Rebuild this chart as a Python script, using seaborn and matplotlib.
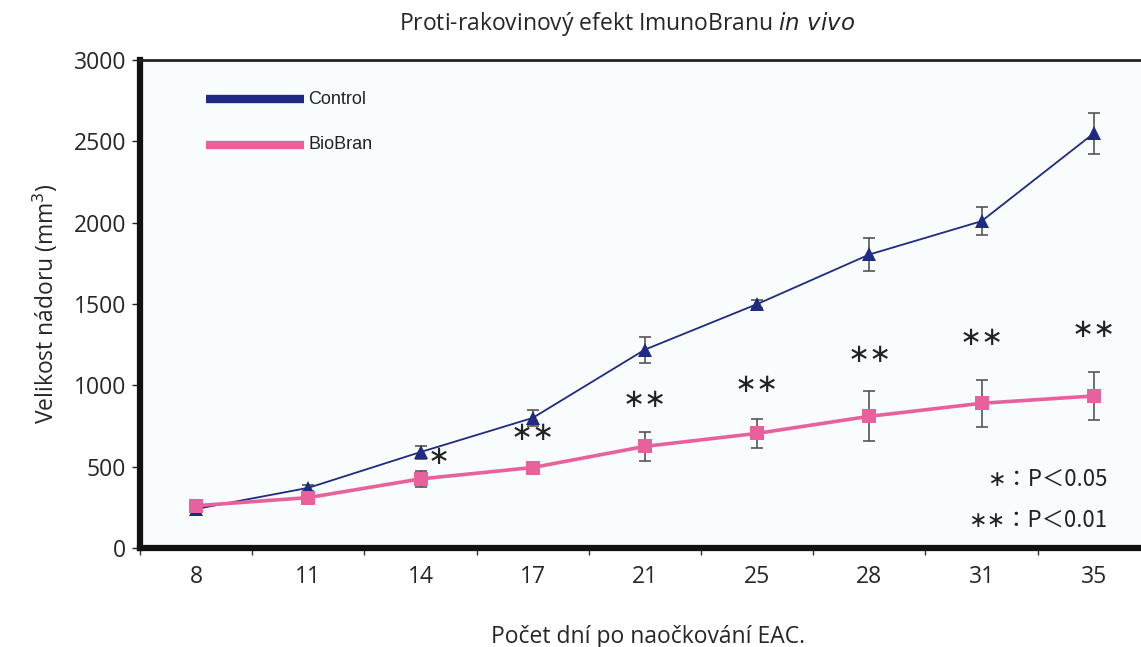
import numpy as np
import pandas as pd
import seaborn as sns
import matplotlib.pyplot as plt

# data
days = ['8', '11', '14', '17', '21', '25', '28', '31', '35']
control = [240, 370, 590, 800, 1220, 1500, 1805, 2010, 2550]
control_err = [0, 20, 40, 50, 80, 25, 100, 85, 125]
biobran = [260, 310, 425, 495, 625, 705, 810, 890, 935]
biobran_err = [0, 30, 50, 30, 90, 90, 155, 145, 145]
stars = ['', '', '*', '**', '**', '**', '**', '**', '**']
star_y = [0, 0, 560, 710, 910, 1000, 1185, 1290, 1340]

sns.set_theme(style='white')
plt.rcParams['font.family'] = ['Open Sans', 'DejaVu Sans']

navy = '#1f2a80'
pink = '#e8619d'

pos = np.arange(len(days))
df = pd.DataFrame({'pos': np.concatenate([pos, pos]),
                   'size': control + biobran,
                   'group': ['Control'] * len(days) + ['BioBran'] * len(days)})

fig = plt.figure(figsize=(11.41, 6.47), dpi=100)
ax = fig.add_axes([0.1227, 0.153, 0.89, 0.754])
ax.set_facecolor('#f8fcfd')

# error bars first, below the lines
ax.errorbar(pos, control, yerr=control_err, fmt='none', ecolor='#555555',
            elinewidth=1.2, capsize=4, capthick=1.2, zorder=1)
ax.errorbar(pos, biobran, yerr=biobran_err, fmt='none', ecolor='#555555',
            elinewidth=1.2, capsize=4, capthick=1.2, zorder=1)

sns.lineplot(data=df[df.group == 'Control'], x='pos', y='size', ax=ax,
             color=navy, linewidth=1.3, marker='^', markersize=10,
             markeredgewidth=0, zorder=3, legend=False)
sns.lineplot(data=df[df.group == 'BioBran'], x='pos', y='size', ax=ax,
             color=pink, linewidth=2.6, marker='s', markersize=10,
             markeredgewidth=0, zorder=4, legend=False)

for i, s in enumerate(stars):
    if s:
        xs = i + 0.16 if s == '*' else i
        ax.text(xs, star_y[i], '\u2217' * len(s), ha='center', va='center',
                fontsize=19, color='#222222', family=['DejaVu Sans'])

# hand-made legend like the original
ax.plot([0.09, 0.96], [2760, 2760], color=navy, lw=6, solid_capstyle='butt')
ax.plot([0.09, 0.96], [2480, 2480], color=pink, lw=6, solid_capstyle='butt')
ax.text(1.0, 2760, 'Control', va='center', fontsize=13,
        family=['Liberation Sans'], color='#222222')
ax.text(1.0, 2480, 'BioBran', va='center', fontsize=13,
        family=['Liberation Sans'], color='#222222')

ax.text(8.12, 420, '\u2217\uff1aP\uff1c0.05', ha='right', va='center',
        fontsize=16, color='#222222', family=['Noto Sans CJK JP', 'DejaVu Sans'])
ax.text(8.12, 170, '\u2217\u2217\uff1aP\uff1c0.01', ha='right', va='center',
        fontsize=16, color='#222222', family=['Noto Sans CJK JP', 'DejaVu Sans'])

ax.set_xlim(-0.39, 8.55)
ax.set_ylim(0, 3000)
ax.set_yticks([0, 500, 1000, 1500, 2000, 2500, 3000])
ax.set_xticks(pos)
ax.set_xticklabels(days)
ax.set_xticks(np.arange(-0.5, 8.6, 1), minor=True)
ax.tick_params(axis='x', which='major', length=0, pad=12, labelsize=16.5)
ax.tick_params(axis='x', which='minor', length=5, width=1, direction='out',
               color='#333333', bottom=True)
ax.tick_params(axis='y', length=6, width=1, direction='out', color='#222222',
               left=True, labelsize=16.5, pad=4)
ax.set_xlabel('Počet dní po naočkování EAC.', fontsize=16.5, labelpad=26)
ax.set_ylabel('Velikost nádoru (mm$^3$)', fontsize=16.5, labelpad=10)
fig.text(0.55, 0.963, 'Proti-rakovinový efekt ImunoBranu $\\it{in\\ vivo}$',
         ha='center', va='center', fontsize=16.5)

for side in ['left', 'bottom']:
    ax.spines[side].set_linewidth(4.5)
    ax.spines[side].set_color('#111111')
ax.spines['top'].set_linewidth(2)
ax.spines['top'].set_color('#222222')
ax.spines['right'].set_visible(False)

fig.savefig('out.png', dpi=100)
